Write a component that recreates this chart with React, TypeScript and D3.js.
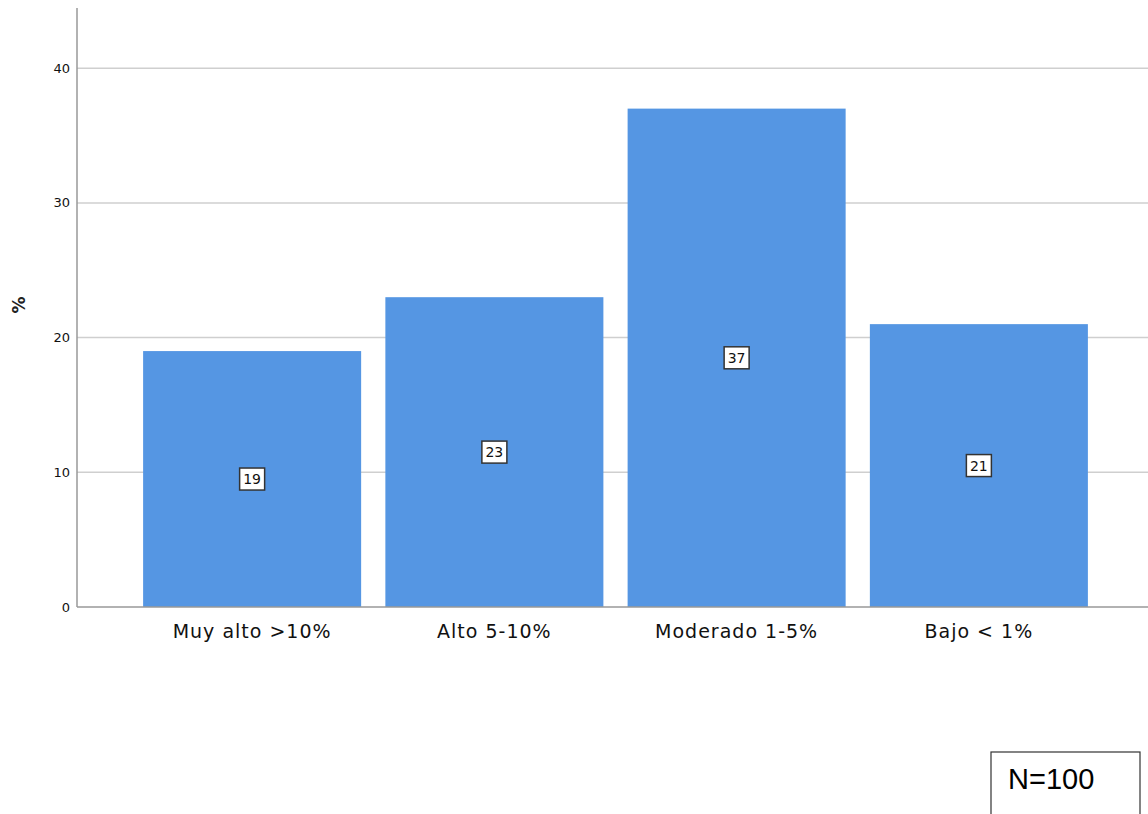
import React from "react";
import * as d3 from "d3";

const categories = ["Muy alto >10%", "Alto 5-10%", "Moderado 1-5%", "Bajo < 1%"];
const values = [19, 23, 37, 21];
const yTicks = [0, 10, 20, 30, 40];
const yLabel = "%";
const note = "N=100";

export default function App() {
  const W = 1148, H = 814;
  const x = d3.scaleBand<string>().domain(categories).range([131, 1100]).paddingInner(0.1).paddingOuter(0.05);
  const y = d3.scaleLinear().domain([0, 44.47]).range([607, 8]);
  const font = "'DejaVu Sans', sans-serif";
  return (
    <svg width={W} height={H} style={{ position: "absolute", left: 0, top: 0 }}>
      <rect width={W} height={H} fill="#fff" />
      {yTicks.filter(t => t > 0).map(t => (
        <line key={"g" + t} x1={77} x2={W} y1={y(t)} y2={y(t)} stroke="#cfcfcf" strokeWidth={1.5} />
      ))}
      {categories.map((c, i) => (
        <rect key={c} x={x(c)} y={y(values[i])} width={x.bandwidth()} height={y(0) - y(values[i])} fill="#5596e3" />
      ))}
      <line x1={77} x2={77} y1={8} y2={607} stroke="#999" strokeWidth={1.5} />
      <line x1={77} x2={W} y1={607} y2={607} stroke="#999" strokeWidth={1.5} />
      {yTicks.map(t => (
        <text key={"t" + t} x={70} y={y(t)} dy="0.35em" textAnchor="end" fontFamily={font} fontSize={13} fill="#111">{t}</text>
      ))}
      <text transform={`translate(25,${305}) rotate(-90)`} textAnchor="middle" fontFamily={font} fontSize={17} fontWeight="bold" fill="#222">{yLabel}</text>
      {categories.map(c => (
        <text key={"c" + c} x={(x(c) as number) + x.bandwidth() / 2} y={638} textAnchor="middle" fontFamily={font} fontSize={19} letterSpacing={1} fill="#111">{c}</text>
      ))}
      {categories.map((c, i) => {
        const cx = (x(c) as number) + x.bandwidth() / 2;
        const cy = y(values[i] / 2);
        return (
          <g key={"l" + c}>
            <rect x={cx - 12.5} y={cy - 11} width={25} height={22} fill="#fff" stroke="#333" strokeWidth={1.5} />
            <text x={cx} y={cy} dy="0.36em" textAnchor="middle" fontFamily={font} fontSize={14} fill="#111">{values[i]}</text>
          </g>
        );
      })}
      <rect x={991} y={752} width={149} height={80} fill="#fff" stroke="#333" strokeWidth={1.2} />
      <text x={1008} y={789} fontFamily="'Liberation Sans', Arial, sans-serif" fontSize={29} fill="#000">{note}</text>
    </svg>
  );
}
